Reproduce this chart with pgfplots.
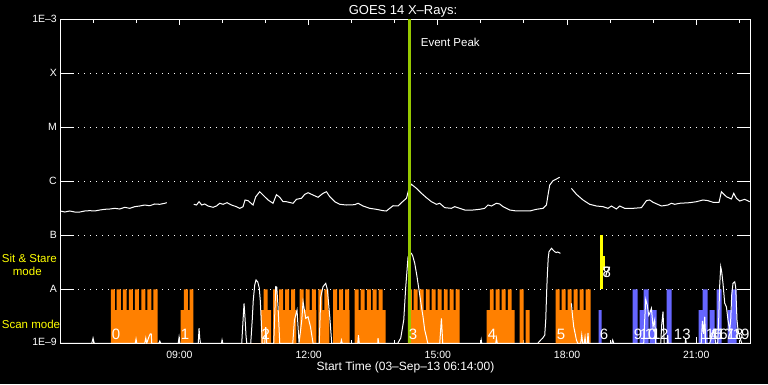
\documentclass[border=0pt]{standalone}
\usepackage{fontspec}
\setmainfont{Liberation Sans}
\usepackage{pgfplots}
\pgfplotsset{compat=1.18}
\definecolor{orng}{RGB}{255,128,0}
\definecolor{blu}{RGB}{102,102,255}
\definecolor{ygreen}{RGB}{150,200,0}
\definecolor{yel}{RGB}{255,255,0}
\newcommand{\fs}[1]{\fontsize{#1bp}{#1bp}\selectfont}
\begin{document}
\begin{tikzpicture}[x=1bp,y=1bp]
\fill[black] (0,0) rectangle (768,384);
\begin{axis}[
  at={(60.3bp,40.7bp)}, anchor=south west,
  scale only axis, width=690.2bp, height=324bp,
  xmin=6.2333, xmax=22.26,
  ymode=log, ymin=1e-9, ymax=1e-3,
  axis line style={white, line width=1bp},
  xtick={9,12,15,18,21},
  xticklabels={09:00,12:00,15:00,18:00,21:00},
  minor xtick={7,8,10,11,13,14,16,17,19,20,22},
  ytick={1e-9,1e-8,1e-7,1e-6,1e-5,1e-4,1e-3},
  yticklabels={\raisebox{3.3bp}{1E--9},A,B,C,M,X,\raisebox{-3.5bp}{1E--3}},
  yminorticks=false,
  tick align=inside,
  xtick pos=both, ytick pos=both,
  xtick style={white, line width=1bp, /pgfplots/major tick length=6bp, /pgfplots/minor tick length=3.5bp},
  ytick style={white, line width=1bp, /pgfplots/major tick length=14bp},
  ymajorgrids=true,
  major grid style={white, line width=1bp, dash pattern=on 1bp off 5bp},
  xticklabel style={white, font=\fs{10.5}, yshift=-4bp},
  yticklabel style={white, font=\fs{10.5}},
]
% orange scan-mode bars
\addplot[const plot mark left, fill=orng, draw=none] coordinates {
(6.3,1e-9)
(7.405,1e-8) (7.498,4.1e-9) (7.544,1e-8) (7.637,4.1e-9) (7.684,1e-8) (7.776,4.1e-9) (7.823,1e-8) (7.916,4.1e-9) (7.962,1e-8) (8.055,4.1e-9) (8.118,1e-8) (8.211,4.1e-9) (8.257,1e-8) (8.350,4.1e-9) (8.396,1e-8) (8.496,1e-9)
(9.030,4.1e-9) (9.100,1e-8) (9.193,4.1e-9) (9.239,1e-8) (9.325,1e-9)
(10.888,4.1e-9) (10.957,1e-8) (11.050,4.1e-9) (11.127,1e-9)
(11.173,1e-8) (11.266,4.1e-9) (11.313,1e-8) (11.405,4.1e-9) (11.452,1e-8) (11.545,4.1e-9) (11.591,1e-8) (11.684,4.1e-9) (11.717,1e-9)
(11.793,1e-8) (11.886,4.1e-9) (11.932,1e-8) (12.025,4.1e-9) (12.072,1e-8) (12.165,4.1e-9) (12.181,1e-9)
(12.227,1e-8) (12.320,4.1e-9) (12.367,1e-8) (12.459,4.1e-9) (12.483,1e-9)
(12.566,1e-8) (12.659,4.1e-9) (12.706,1e-8) (12.798,4.1e-9) (12.845,1e-8) (12.938,4.1e-9) (12.954,1e-9)
(13.070,1e-8) (13.163,4.1e-9) (13.209,1e-8) (13.302,4.1e-9) (13.349,1e-8) (13.442,4.1e-9) (13.488,1e-8) (13.581,4.1e-9) (13.627,1e-8) (13.720,4.1e-9) (13.790,1e-9)
(14.301,1e-8) (14.394,4.1e-9) (14.440,1e-8) (14.533,4.1e-9) (14.579,1e-8) (14.672,4.1e-9) (14.719,1e-8) (14.811,4.1e-9) (14.858,1e-8) (14.951,4.1e-9) (14.997,1e-8) (15.090,4.1e-9) (15.137,1e-8) (15.229,4.1e-9) (15.276,1e-8) (15.369,4.1e-9) (15.415,1e-8) (15.508,1e-9)
(16.135,4.1e-9) (16.205,1e-8) (16.297,4.1e-9) (16.344,1e-8) (16.437,4.1e-9) (16.483,1e-8) (16.576,4.1e-9) (16.623,1e-8) (16.715,4.1e-9) (16.785,1e-9) (16.901,1e-8) (16.994,1e-9) (17.040,4.1e-9) (17.133,1e-9)
(17.737,1e-8) (17.830,4.1e-9) (17.876,1e-8) (17.969,4.1e-9) (18.016,1e-8) (18.108,4.1e-9) (18.155,1e-8) (18.248,4.1e-9) (18.294,1e-8) (18.387,4.1e-9) (18.433,1e-8) (18.550,1e-9)
(18.6,1e-9)
} --cycle;
% blue bars
\addplot[const plot mark left, fill=blu, draw=none] coordinates {
(18.6,1e-9) (18.735,4.1e-9) (18.805,1e-9) (19.525,1e-8) (19.641,1e-9) (19.687,4.1e-9) (19.780,1e-8) (19.896,1e-9) (19.919,4.1e-9) (20.082,1e-9) (20.314,1e-8) (20.430,1e-9) (21.057,4.1e-9) (21.150,1e-8) (21.266,1e-9) (21.313,4.1e-9) (21.429,1e-9) (21.475,1e-8) (21.591,1e-9) (21.731,4.1e-9) (21.823,1e-8) (21.939,1e-9) (22.0,1e-9)
} --cycle;
% long channel flux
\addplot[white, line width=1bp] coordinates {
(6.234,2.82e-7) (6.337,2.70e-7) (6.453,2.82e-7) (6.569,2.70e-7) (6.685,2.70e-7) (6.801,2.82e-7) (6.917,2.86e-7) (7.033,2.82e-7) (7.150,2.94e-7) (7.266,3.03e-7) (7.382,3.07e-7) (7.498,3.16e-7) (7.614,3.07e-7) (7.730,3.30e-7) (7.846,3.16e-7) (7.962,3.39e-7) (8.078,3.49e-7) (8.194,3.64e-7) (8.310,3.53e-7) (8.427,3.80e-7) (8.543,3.75e-7) (8.659,3.92e-7) (8.705,4.02e-7)
};
\addplot[white, line width=1bp] coordinates {
(9.332,3.75e-7) (9.395,3.64e-7) (9.455,4.19e-7) (9.518,3.64e-7) (9.587,3.80e-7) (9.664,3.49e-7) (9.780,3.30e-7) (9.859,3.49e-7) (9.936,3.92e-7) (10.012,3.75e-7) (10.105,4.02e-7) (10.207,3.64e-7) (10.323,3.39e-7) (10.400,3.16e-7) (10.477,3.39e-7) (10.523,4.51e-7) (10.593,4.38e-7) (10.709,3.64e-7) (10.772,5.19e-7) (10.864,6.41e-7) (10.941,5.57e-7) (11.057,4.51e-7) (11.173,3.92e-7) (11.252,5.65e-7) (11.329,5.06e-7) (11.405,4.19e-7) (11.484,4.19e-7) (11.638,3.92e-7) (11.717,4.64e-7) (11.833,4.85e-7) (11.909,5.74e-7) (11.986,6.15e-7) (12.102,5.57e-7) (12.218,5.06e-7) (12.334,6.00e-7) (12.413,6.41e-7) (12.490,5.19e-7) (12.606,4.19e-7) (12.722,3.75e-7) (12.877,3.64e-7) (13.070,3.69e-7) (13.147,3.92e-7) (13.263,3.49e-7) (13.418,3.16e-7) (13.574,3.03e-7) (13.727,2.86e-7) (13.806,2.82e-7) (13.883,3.16e-7) (13.959,3.53e-7) (14.075,3.49e-7) (14.154,4.02e-7) (14.271,4.85e-7) (14.331,7.41e-7) (14.387,8.80e-7) (14.503,7.41e-7) (14.619,6.00e-7) (14.735,4.97e-7) (14.851,4.19e-7) (14.967,3.75e-7) (15.044,3.92e-7) (15.160,3.25e-7) (15.315,3.16e-7) (15.392,3.39e-7) (15.508,3.16e-7) (15.624,2.94e-7) (15.817,2.94e-7) (15.972,3.03e-7) (16.088,3.16e-7) (16.165,3.64e-7) (16.244,3.49e-7) (16.360,3.92e-7) (16.437,3.80e-7) (16.513,3.39e-7) (16.669,2.94e-7) (16.825,2.82e-7) (16.978,2.82e-7) (17.133,2.82e-7) (17.289,3.03e-7) (17.442,3.16e-7) (17.521,3.64e-7) (17.558,5.57e-7) (17.598,8.54e-7) (17.674,1.026e-6) (17.830,1.186e-6)
};
\addplot[white, line width=1bp] coordinates {
(18.101,7.41e-7) (18.218,5.74e-7) (18.371,4.51e-7) (18.526,3.75e-7) (18.682,3.49e-7) (18.835,3.39e-7) (18.951,3.16e-7) (19.030,3.49e-7) (19.146,3.07e-7) (19.223,3.49e-7) (19.339,3.16e-7) (19.532,3.16e-7) (19.727,3.25e-7) (19.843,4.38e-7) (19.919,4.51e-7) (19.996,4.09e-7) (20.191,3.49e-7) (20.344,3.64e-7) (20.423,3.92e-7) (20.500,3.75e-7) (20.616,3.92e-7) (20.848,4.02e-7) (21.004,4.19e-7) (21.157,4.51e-7) (21.273,4.38e-7) (21.389,4.09e-7) (21.529,4.09e-7) (21.584,6.41e-7) (21.700,5.19e-7) (21.816,4.70e-7) (21.870,6.00e-7) (21.932,4.85e-7) (22.009,4.32e-7) (22.125,4.64e-7) (22.241,4.19e-7)
};
% short channel flux
\addplot[white, line width=1bp] coordinates {
(6.234,1e-9) (6.964,1e-9) (6.994,1.25e-9) (7.022,1e-9) (7.974,1e-9) (7.992,1.2e-9) (8.009,1e-9) (8.194,1e-9) (8.218,1.25e-9) (8.241,1e-9) (8.287,1.3e-9) (8.322,1.49e-9) (8.345,1.49e-9) (8.357,1e-9) (8.519,1e-9) (8.543,1.1e-9) (8.566,1e-9) (8.972,1e-9) (8.991,1.29e-9) (9.007,1e-9) (9.437,1e-9) (9.455,1.9e-9) (9.471,1.25e-9) (9.488,1e-9) (9.975,1e-9) (9.989,1.15e-9) (10.005,1e-9) (10.446,1e-9) (10.477,2.7e-9) (10.500,5.5e-9) (10.523,2.9e-9) (10.546,1.37e-9) (10.563,1e-9) (10.655,1e-9) (10.690,2.7e-9) (10.714,6.3e-9) (10.748,1.2e-8) (10.778,1.49e-8) (10.818,1.37e-8) (10.853,1.06e-8) (10.876,6.3e-9) (10.899,2.7e-9) (10.922,1e-9) (10.981,1e-9) (11.004,2e-9) (11.027,1e-9) (11.189,1e-9) (11.236,1.12e-8) (11.259,1.1e-8) (11.289,4.76e-9) (11.329,1e-9) (11.631,1e-9) (11.670,2.7e-9) (11.730,4.14e-9) (11.777,1e-9) (11.840,2.7e-9) (11.870,5.9e-9) (11.932,2.9e-9) (11.986,3.1e-9) (12.042,2.03e-9) (12.102,1e-9) (12.246,1e-9) (12.281,7.3e-9) (12.334,1.12e-8) (12.397,1.29e-8) (12.436,9.7e-9) (12.490,3.1e-9) (12.536,1e-9) (12.745,1e-9) (12.761,1.15e-9) (12.780,1e-9) (13.140,1e-9) (13.156,1.42e-9) (13.175,1e-9) (13.604,1e-9) (13.611,1.25e-9) (13.627,1e-9) (14.069,1e-9) (14.138,1.25e-9) (14.208,2.7e-9) (14.254,1.1e-8) (14.308,3.97e-8) (14.347,4.51e-8) (14.387,4.64e-8) (14.417,4.14e-8) (14.463,3.03e-8) (14.510,1.84e-8) (14.563,9.7e-9) (14.619,4.76e-9) (14.656,3.1e-9) (14.695,1.76e-9) (14.735,1.31e-9) (14.765,1e-9) (15.044,1e-9) (15.083,2.9e-9) (15.113,1e-9) (15.996,1e-9) (16.007,1.15e-9) (16.019,1e-9) (16.344,1e-9) (16.360,1.25e-9) (16.379,1e-9) (17.319,1e-9) (17.389,1.15e-9) (17.435,1.25e-9) (17.482,1.42e-9) (17.505,2.7e-9) (17.528,9.7e-9) (17.544,1.98e-8) (17.563,3.8e-8) (17.581,4.97e-8) (17.637,5.74e-8) (17.674,5.35e-8) (17.714,4.97e-8) (17.753,4.8e-8) (17.783,4.91e-8) (17.846,4.64e-8)
};
\addplot[white, line width=1bp] coordinates {
(18.101,5.51e-9) (18.125,3.34e-9) (18.155,2.03e-9) (18.218,1.15e-9) (18.248,1e-9) (18.318,1e-9) (18.341,1.42e-9) (18.364,1e-9) (18.399,1e-9) (18.418,1.3e-9) (18.433,1e-9) (18.468,1e-9) (18.487,1.55e-9) (18.503,1e-9) (19.037,1e-9) (19.060,1.15e-9) (19.084,1e-9) (19.780,1e-9) (19.803,2.7e-9) (19.827,6.5e-9) (19.862,5.1e-9) (19.896,3.3e-9) (19.919,3.6e-9) (19.959,4.45e-9) (19.996,2.03e-9) (20.035,2.7e-9) (20.059,1e-9) (20.175,1e-9) (20.198,2.2e-9) (20.228,3.85e-9) (20.256,1e-9) (20.326,1e-9) (20.337,1.42e-9) (20.349,1e-9) (20.744,1e-9) (20.755,1.25e-9) (20.767,1e-9) (21.115,1e-9) (21.143,2.6e-9) (21.173,1.5e-9) (21.197,3.1e-9) (21.220,1e-9) (21.313,1e-9) (21.406,1.76e-9) (21.452,1e-9) (21.498,1e-9) (21.521,2.7e-9) (21.545,1.2e-8) (21.568,2.62e-8) (21.591,2.1e-8) (21.621,1.29e-8) (21.661,5.51e-9) (21.700,4.76e-9) (21.737,2.7e-9) (21.777,1.76e-9) (21.800,2.7e-9) (21.823,7.8e-9) (21.853,1.29e-8) (21.893,1.38e-8) (21.916,1.1e-8) (21.946,2.7e-9) (21.970,1.76e-9) (22.009,1.31e-9) (22.056,1e-9) (22.241,1e-9)
};
% event peak line
\addplot[ygreen, line width=2.5bp] coordinates {(14.347,1e-9) (14.347,1e-3)};
% sit and stare marker
\addplot[yel, line width=2.5bp] coordinates {(18.805,1e-8) (18.805,1e-7)};
\addplot[yel, line width=1.5bp] coordinates {(18.853,2.3e-8) (18.853,4.1e-8)};
% raster numbers
\begin{scope}[every node/.style={anchor=base west, white, font=\fs{15}, inner sep=0pt}]
\node at (axis cs:7.428,1.2e-9) {0};
\node at (axis cs:9.030,1.2e-9) {1};
\node at (axis cs:10.904,1.2e-9) {2};
\node at (axis cs:14.324,1.2e-9) {3};
\node at (axis cs:16.158,1.2e-9) {4};
\node at (axis cs:17.760,1.2e-9) {5};
\node at (axis cs:18.759,1.2e-9) {6};
\node at (axis cs:18.821,1.62e-8) {7};
\node at (axis cs:18.821,1.62e-8) {8};
\node at (axis cs:19.548,1.2e-9) {9};
\node at (axis cs:19.687,1.2e-9) {10};
\node at (axis cs:19.803,1.2e-9) {11};
\node at (axis cs:19.965,1.2e-9) {12};
\node at (axis cs:20.477,1.2e-9) {13};
\node at (axis cs:21.104,1.2e-9) {14};
\node at (axis cs:21.220,1.2e-9) {15};
\node at (axis cs:21.336,1.2e-9) {16};
\node at (axis cs:21.475,1.2e-9) {17};
\node at (axis cs:21.707,1.2e-9) {18};
\node at (axis cs:21.846,1.2e-9) {19};
\end{scope}
\end{axis}
\node[anchor=base, white, font=\fs{13}, inner sep=0pt] at (403,370) {GOES 14 X--Rays:};
\node[anchor=base, white, font=\fs{12}, inner sep=0pt] at (405.5,13.5) {Start Time (03--Sep--13 06:14:00)};
\node[anchor=base west, white, font=\fs{11.5}, inner sep=0pt] at (420.7,337.3) {Event Peak};
\node[anchor=base west, yel, font=\fs{11.5}, inner sep=0pt] at (1.7,121.3) {Sit \& Stare};
\node[anchor=base west, yel, font=\fs{11.5}, inner sep=0pt] at (12.7,109) {mode};
\node[anchor=base west, yel, font=\fs{11.5}, inner sep=0pt] at (1.7,56) {Scan mode};
\pgfresetboundingbox
\useasboundingbox (0,0) rectangle (768,384);
\end{tikzpicture}
\end{document}
